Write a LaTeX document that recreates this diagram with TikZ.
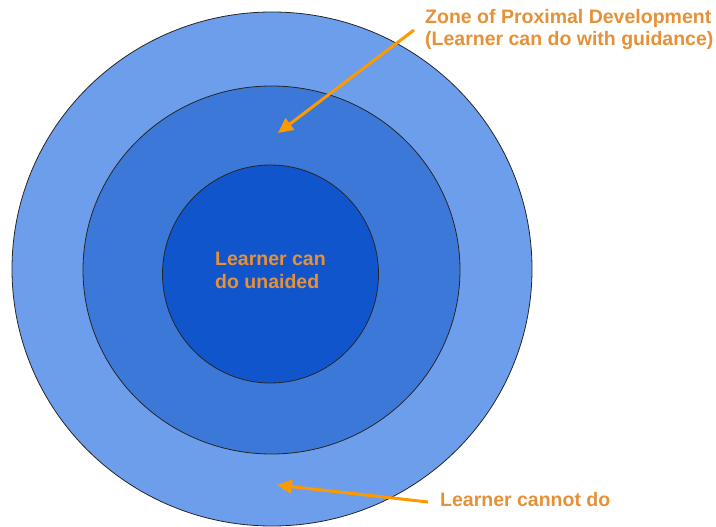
\documentclass[tikz,border=0pt]{standalone}
\usepackage{fontspec}
\setmainfont{Liberation Sans}
\usetikzlibrary{arrows.meta}
\definecolor{ringOuter}{HTML}{6D9EEB}
\definecolor{ringMiddle}{HTML}{3C78D8}
\definecolor{ringInner}{HTML}{1155CC}
\definecolor{labelOrange}{HTML}{E69138}
\definecolor{arrowOrange}{HTML}{FF9900}
\tikzset{
  ring/.style={draw=black!85, line width=0.8bp},
  % multi-line labels sit on the baseline of their last line
  zonelabel/.style={text=labelOrange, font=\fontsize{19.5bp}{22.5bp}\selectfont\bfseries,
    inner sep=0pt, anchor=base west, align=left},
  pointer/.style={draw=arrowOrange, line width=3bp,
    -{Triangle[length=15bp,width=14bp]}}
}
\begin{document}
\begin{tikzpicture}[x=1bp,y=-1bp]
  \useasboundingbox (0,0) rectangle (716,527);
  % three nested zones
  \fill[white] (0,0) rectangle (716,527);
  \filldraw[ring, fill=ringOuter]  (272,269) ellipse [x radius=260, y radius=257];
  \filldraw[ring, fill=ringMiddle] (271.5,270) ellipse [x radius=188.5, y radius=184];
  \filldraw[ring, fill=ringInner]  (270.5,274) ellipse [x radius=108, y radius=109];
  % labels
  \node[zonelabel] (unaided) at (215,288) {Learner can\\do unaided};
  \node[zonelabel] (zpd) at (425,46) {Zone of Proximal Development\\(Learner can do with guidance)};
  \node[zonelabel] (cannot) at (440,506) {Learner cannot do};
  % arrow ends
  \coordinate (zpdStart) at (414,30);
  \coordinate (zpdTip) at (278,133);
  \coordinate (cannotStart) at (428,502);
  \coordinate (cannotTip) at (277,485);
  \draw[pointer] (zpdStart) -- (zpdTip);
  \draw[pointer] (cannotStart) -- (cannotTip);
\end{tikzpicture}
\end{document}
